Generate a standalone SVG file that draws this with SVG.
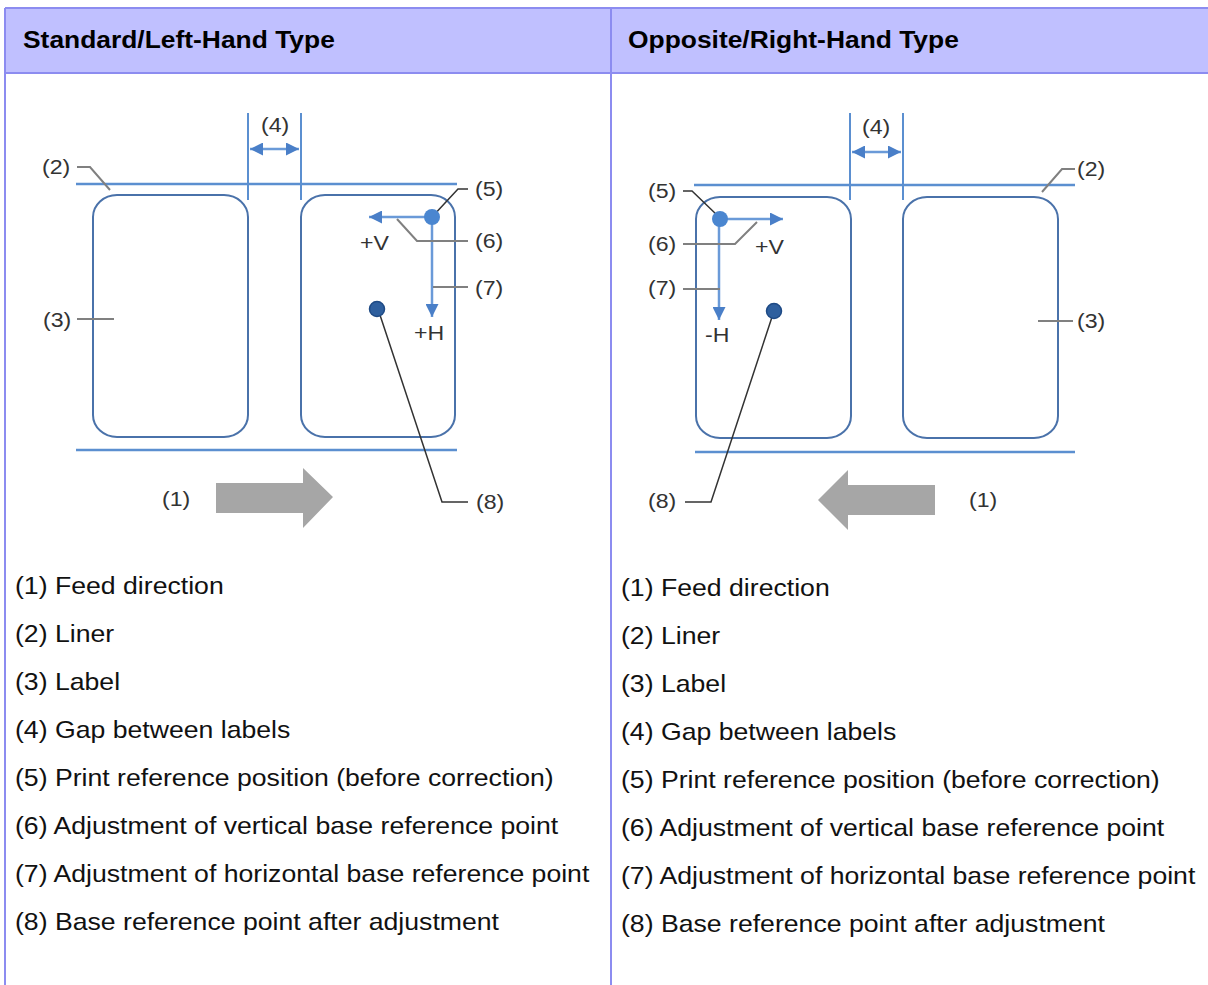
<svg xmlns="http://www.w3.org/2000/svg" width="1208" height="985" viewBox="0 0 1208 985">
<defs>
<style>
.hdr{font-family:"Liberation Sans",Arial,sans-serif;font-weight:bold;font-size:24px;fill:#000}
.body{font-family:"Liberation Sans",Arial,sans-serif;font-size:24px;fill:#111}
.lbl{font-family:"Liberation Sans",Arial,sans-serif;font-size:21px;fill:#333}
.liner{stroke:#5b8fd0;stroke-width:2.5;fill:none}
.vline{stroke:#5b8fd0;stroke-width:2;fill:none}
.label{stroke:#4a72aa;stroke-width:2;fill:#fff}
.arr{stroke:#6a9ad8;stroke-width:2.5;fill:none}
.lead{stroke:#808080;stroke-width:2;fill:none}
.leadk{stroke:#333;stroke-width:1.5;fill:none}
.feed{fill:#a6a6a6}
.tb{stroke:#8c8cf0;stroke-width:2;fill:none}
</style>
<marker id="ah" viewBox="0 0 12 12" refX="12" refY="6" markerUnits="userSpaceOnUse" markerWidth="13" markerHeight="13" orient="auto-start-reverse">
<path d="M0,0 L12,6 L0,12 z" fill="#4a7fc8"/>
</marker>
</defs>

<g id="table">
<rect x="5" y="8" width="1210" height="65" fill="#c0c0ff"/>
<path class="tb" d="M5,8 H1210 M5,73 H1210 M5,8 V985 M611,8 V985"/>
<text class="hdr" transform="translate(23,48) scale(1.1,1)">Standard/Left-Hand Type</text>
<text class="hdr" transform="translate(628,48) scale(1.1,1)">Opposite/Right-Hand Type</text>
</g>

<g id="left-diagram">
<g id="left-labels">
<rect class="label" x="93" y="195" width="155" height="242" rx="24" ry="22"/>
<rect class="label" x="301" y="195" width="154" height="242" rx="24" ry="22"/>
</g>
<g id="left-liner">
<path class="liner" d="M76,184 H457 M76,450 H457"/>
<path class="vline" d="M248,113 V200 M301,113 V200"/>
</g>
<g id="left-connectors">
<path class="arr" d="M250,149 H299" marker-start="url(#ah)" marker-end="url(#ah)"/>
<path class="arr" d="M432,217 H369" marker-end="url(#ah)"/>
<path class="arr" d="M432,217 V317" marker-end="url(#ah)"/>
<path class="lead" d="M77,167 H90 L110,190"/>
<path class="lead" d="M77,319 H114"/>
<path class="leadk" d="M432,217 L458,189 H468"/>
<path class="lead" d="M397,219 L417,241 H468"/>
<path class="lead" d="M433,287 H468"/>
<path class="leadk" d="M378,309 L442,502 H468"/>
</g>
<circle cx="432" cy="217" r="8" fill="#4a86d0"/>
<circle cx="377" cy="309" r="7.5" fill="#2e5f9e" stroke="#1e4a85" stroke-width="1.5"/>
<path class="feed" d="M216,483 H303 V468 L333,497 L303,528 V513 H216 z"/>
<g id="left-texts">
<text class="lbl" transform="translate(42,174) scale(1.1,1)">(2)</text>
<text class="lbl" transform="translate(43,327) scale(1.1,1)">(3)</text>
<text class="lbl" transform="translate(261,132) scale(1.1,1)">(4)</text>
<text class="lbl" transform="translate(475,196) scale(1.1,1)">(5)</text>
<text class="lbl" transform="translate(475,248) scale(1.1,1)">(6)</text>
<text class="lbl" transform="translate(475,295) scale(1.1,1)">(7)</text>
<text class="lbl" transform="translate(476,509) scale(1.1,1)">(8)</text>
<text class="lbl" transform="translate(162,506) scale(1.1,1)">(1)</text>
<text class="lbl" transform="translate(360,250) scale(1.1,1)">+V</text>
<text class="lbl" transform="translate(414,340) scale(1.1,1)">+H</text>
</g>
</g>

<g id="right-diagram">
<g id="right-labels">
<rect class="label" x="696" y="197" width="155" height="241" rx="24" ry="22"/>
<rect class="label" x="903" y="197" width="155" height="241" rx="24" ry="22"/>
</g>
<g id="right-liner">
<path class="liner" d="M694,185 H1075 M695,452 H1075"/>
<path class="vline" d="M850,113 V200 M903,113 V200"/>
</g>
<g id="right-connectors">
<path class="arr" d="M852,152 H901" marker-start="url(#ah)" marker-end="url(#ah)"/>
<path class="arr" d="M719,219 H783" marker-end="url(#ah)"/>
<path class="arr" d="M719,219 V320" marker-end="url(#ah)"/>
<path class="lead" d="M1042,192 L1062,169 H1075"/>
<path class="lead" d="M1038,321 H1073"/>
<path class="leadk" d="M683,191 H692 L717,215"/>
<path class="lead" d="M683,244 H735 L757,222"/>
<path class="lead" d="M683,289 H720"/>
<path class="leadk" d="M774,311 L711,502 H685"/>
</g>
<circle cx="720" cy="219" r="8" fill="#4a86d0"/>
<circle cx="774" cy="311" r="7.5" fill="#2e5f9e" stroke="#1e4a85" stroke-width="1.5"/>
<path class="feed" d="M935,485 H848 V470 L818,500 L848,530 V515 H935 z"/>
<g id="right-texts">
<text class="lbl" transform="translate(1077,176) scale(1.1,1)">(2)</text>
<text class="lbl" transform="translate(1077,328) scale(1.1,1)">(3)</text>
<text class="lbl" transform="translate(862,134) scale(1.1,1)">(4)</text>
<text class="lbl" transform="translate(648,198) scale(1.1,1)">(5)</text>
<text class="lbl" transform="translate(648,251) scale(1.1,1)">(6)</text>
<text class="lbl" transform="translate(648,295) scale(1.1,1)">(7)</text>
<text class="lbl" transform="translate(648,508) scale(1.1,1)">(8)</text>
<text class="lbl" transform="translate(969,507) scale(1.1,1)">(1)</text>
<text class="lbl" transform="translate(755,254) scale(1.1,1)">+V</text>
<text class="lbl" transform="translate(705,342) scale(1.1,1)">-H</text>
</g>
</g>

<g id="left-legend">
<text class="body" transform="translate(15,594) scale(1.11,1)">(1) Feed direction</text>
<text class="body" transform="translate(15,642) scale(1.11,1)">(2) Liner</text>
<text class="body" transform="translate(15,690) scale(1.11,1)">(3) Label</text>
<text class="body" transform="translate(15,738) scale(1.11,1)">(4) Gap between labels</text>
<text class="body" transform="translate(15,786) scale(1.11,1)">(5) Print reference position (before correction)</text>
<text class="body" transform="translate(15,834) scale(1.11,1)">(6) Adjustment of vertical base reference point</text>
<text class="body" transform="translate(15,882) scale(1.11,1)">(7) Adjustment of horizontal base reference point</text>
<text class="body" transform="translate(15,930) scale(1.11,1)">(8) Base reference point after adjustment</text>
</g>
<g id="right-legend">
<text class="body" transform="translate(621,596) scale(1.11,1)">(1) Feed direction</text>
<text class="body" transform="translate(621,644) scale(1.11,1)">(2) Liner</text>
<text class="body" transform="translate(621,692) scale(1.11,1)">(3) Label</text>
<text class="body" transform="translate(621,740) scale(1.11,1)">(4) Gap between labels</text>
<text class="body" transform="translate(621,788) scale(1.11,1)">(5) Print reference position (before correction)</text>
<text class="body" transform="translate(621,836) scale(1.11,1)">(6) Adjustment of vertical base reference point</text>
<text class="body" transform="translate(621,884) scale(1.11,1)">(7) Adjustment of horizontal base reference point</text>
<text class="body" transform="translate(621,932) scale(1.11,1)">(8) Base reference point after adjustment</text>
</g>
</svg>
